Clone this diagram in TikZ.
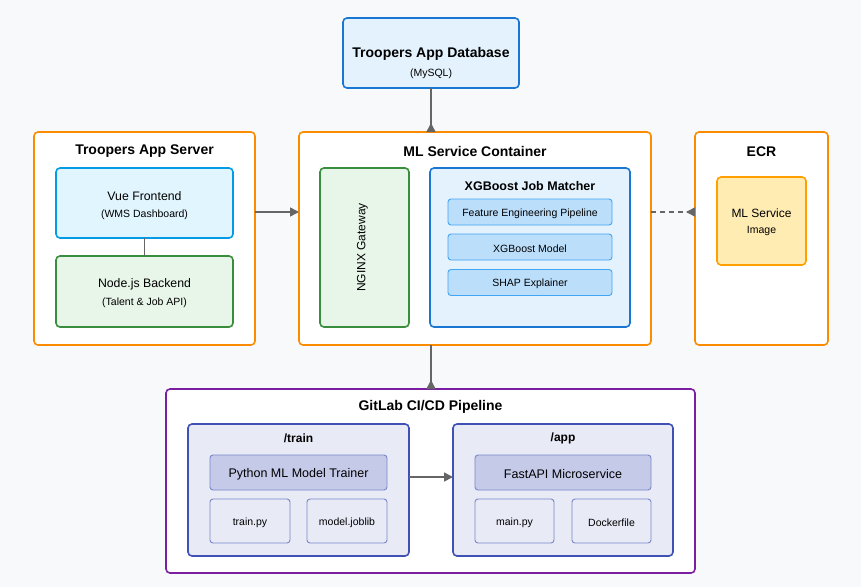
\documentclass[tikz,border=0pt]{standalone}
\usepackage{fontspec}
\setmainfont{Liberation Sans}
\usetikzlibrary{arrows.meta,calc}
\definecolor{bg}{HTML}{F8F9FA}
\definecolor{orangeB}{HTML}{FB8C00}
\definecolor{vueF}{HTML}{E1F5FE}
\definecolor{vueB}{HTML}{039BE5}
\definecolor{grnF}{HTML}{E8F5E9}
\definecolor{grnB}{HTML}{388E3C}
\definecolor{bluF}{HTML}{E3F2FD}
\definecolor{bluB}{HTML}{1976D2}
\definecolor{subF}{HTML}{BBDEFB}
\definecolor{subB}{HTML}{42A5F5}
\definecolor{imgF}{HTML}{FFECB3}
\definecolor{imgB}{HTML}{FFA000}
\definecolor{purB}{HTML}{7B1FA2}
\definecolor{indF}{HTML}{E8EAF6}
\definecolor{indB}{HTML}{3F51B5}
\definecolor{ind2F}{HTML}{C5CAE9}
\definecolor{ind2B}{HTML}{7986CB}
\definecolor{conn}{HTML}{666666}
\tikzset{
  box/.style={draw, rounded corners=4pt, inner sep=0pt, outer sep=0pt},
  outerbox/.style={box, draw=orangeB, fill=white, line width=1.6pt},
  vuebox/.style={box, draw=vueB, fill=vueF, line width=1.6pt},
  grnbox/.style={box, draw=grnB, fill=grnF, line width=1.6pt},
  blubox/.style={box, draw=bluB, fill=bluF, line width=1.6pt},
  subbox/.style={box, rounded corners=3pt, draw=subB, fill=subF, line width=0.9pt},
  imgbox/.style={box, draw=imgB, fill=imgF, line width=1.6pt},
  pipebox/.style={box, draw=purB, fill=white, line width=1.6pt},
  dirbox/.style={box, draw=indB, fill=indF, line width=1.6pt},
  compbox/.style={box, rounded corners=3pt, draw=ind2B, fill=ind2F, line width=0.9pt},
  filebox/.style={box, rounded corners=3pt, draw=ind2B, fill=indF, line width=0.9pt},
  txt/.style={inner sep=0pt, yshift=-1.3pt},
  ttl/.style={txt, font=\bfseries\fontsize{14}{16}\selectfont},
  sttl/.style={txt, font=\bfseries\fontsize{12.5}{14}\selectfont},
  main/.style={txt, font=\fontsize{12.3}{14}\selectfont},
  small/.style={txt, font=\fontsize{10.5}{12}\selectfont},
  vtxt/.style={inner sep=0pt, font=\fontsize{12}{14}\selectfont, rotate=90},
  conline/.style={draw=conn, line width=1.6pt},
  tip/.style={-{Triangle[length=9pt,width=9pt]}},
  rtip/.style={-{Triangle[length=9pt,width=9pt,reversed]}},
}
\begin{document}
\begin{tikzpicture}[x=1pt,y=-1pt]
\fill[bg] (0,0) rectangle (861,587);
\useasboundingbox (0,0) rectangle (861,587);

% database
\node[blubox, minimum width=176, minimum height=70] (db) at (431,53) {};
\node[ttl] (dbt) at (431,53) {Troopers App Database};
\node[small] (dbs) at (431,72) {(MySQL)};

% app server
\node[outerbox, minimum width=221, minimum height=213] (srv) at (144.5,238.5) {};
\node[ttl] (srvt) at (144.5,150) {Troopers App Server};
\node[vuebox, minimum width=177, minimum height=70] (vue) at (144.5,203) {};
\node[main] (vuet) at (144.5,195) {Vue Frontend};
\node[small] (vues) at (144.5,213) {(WMS Dashboard)};
\node[grnbox, minimum width=177, minimum height=71] (nodejs) at (144.5,291.5) {};
\node[main] (nodet) at (144.5,283) {Node.js Backend};
\node[small] (nodes) at (144.5,301) {(Talent \& Job API)};

% ML container
\node[outerbox, minimum width=352, minimum height=213] (ml) at (475,238.5) {};
\node[ttl] (mlt) at (475,150) {ML Service Container};
\node[grnbox, minimum width=89, minimum height=159] (nginx) at (364.5,247.5) {};
\node[vtxt] (nginxt) at (362.5,247.5) {NGINX Gateway};
\node[blubox, minimum width=200, minimum height=159] (xgb) at (530,247.5) {};
\node[sttl] (xgbt) at (530,185) {XGBoost Job Matcher};
\node[subbox, minimum width=164, minimum height=26] (fe) at (530,212) {};
\node[small] (fet) at (530,212) {Feature Engineering Pipeline};
\node[subbox, minimum width=164, minimum height=26] (mdl) at (530,247) {};
\node[small] (mdlt) at (530,247) {XGBoost Model};
\node[subbox, minimum width=164, minimum height=26] (shap) at (530,282.5) {};
\node[small] (shapt) at (530,282.5) {SHAP Explainer};

% ECR
\node[outerbox, minimum width=133, minimum height=213] (ecr) at (761.5,238.5) {};
\node[ttl] (ecrt) at (761.5,150) {ECR};
\node[imgbox, minimum width=89, minimum height=88] (img) at (761.5,221) {};
\node[main, font=\fontsize{12}{14}\selectfont] (imgt) at (761.5,212) {ML Service};
\node[small] (imgs) at (761.5,230) {Image};

% pipeline
\node[pipebox, minimum width=529, minimum height=184] (pipe) at (430.5,481) {};
\node[ttl] (pipet) at (430.5,406) {GitLab CI/CD Pipeline};
\node[dirbox, minimum width=221, minimum height=132] (train) at (298.5,490) {};
\node[sttl, font=\bfseries\fontsize{12}{14}\selectfont] (traint) at (298.5,437) {/train};
\node[compbox, minimum width=177, minimum height=35] (trainer) at (298.5,472.5) {};
\node[main, font=\fontsize{12.5}{14}\selectfont] (trainert) at (298.5,472.5) {Python ML Model Trainer};
\node[filebox, minimum width=80, minimum height=44] (trainpy) at (250,521) {};
\node[small] (trainpyt) at (250,521) {train.py};
\node[filebox, minimum width=80, minimum height=44] (joblib) at (347,521) {};
\node[small] (joblibt) at (347,521) {model.joblib};

\node[dirbox, minimum width=220, minimum height=132] (app) at (563,490) {};
\node[sttl, font=\bfseries\fontsize{12}{14}\selectfont] (appt) at (563,437) {/app};
\node[compbox, minimum width=176, minimum height=35] (fast) at (563,472.5) {};
\node[main, font=\fontsize{12.5}{14}\selectfont] (fastt) at (563,472.5) {FastAPI Microservice};
\node[filebox, minimum width=79, minimum height=44] (mainpy) at (514.5,521) {};
\node[small] (mainpyt) at (514.5,521) {main.py};
\node[filebox, minimum width=79, minimum height=44] (docker) at (611.5,521) {};
\node[small] (dockert) at (611.5,521) {Dockerfile};

% connectors
\draw[conline, rtip] (db.south) -- (db.south |- ml.north);
\draw[conline, tip] (srv.east |- fe) -- (ml.west |- fe);
\draw[conline, dashed, dash pattern=on 5pt off 4pt, rtip] (ml.east |- fe) -- (ecr.west |- fe);
\draw[conline] (vue.south) -- (nodejs.north);
\draw[conline, rtip] (db.south |- ml.south) -- (db.south |- pipe.north);
\draw[conline, tip] ([yshift=-4.5pt]train.east |- trainer) -- ([yshift=-4.5pt]app.west |- trainer);
\end{tikzpicture}
\end{document}
